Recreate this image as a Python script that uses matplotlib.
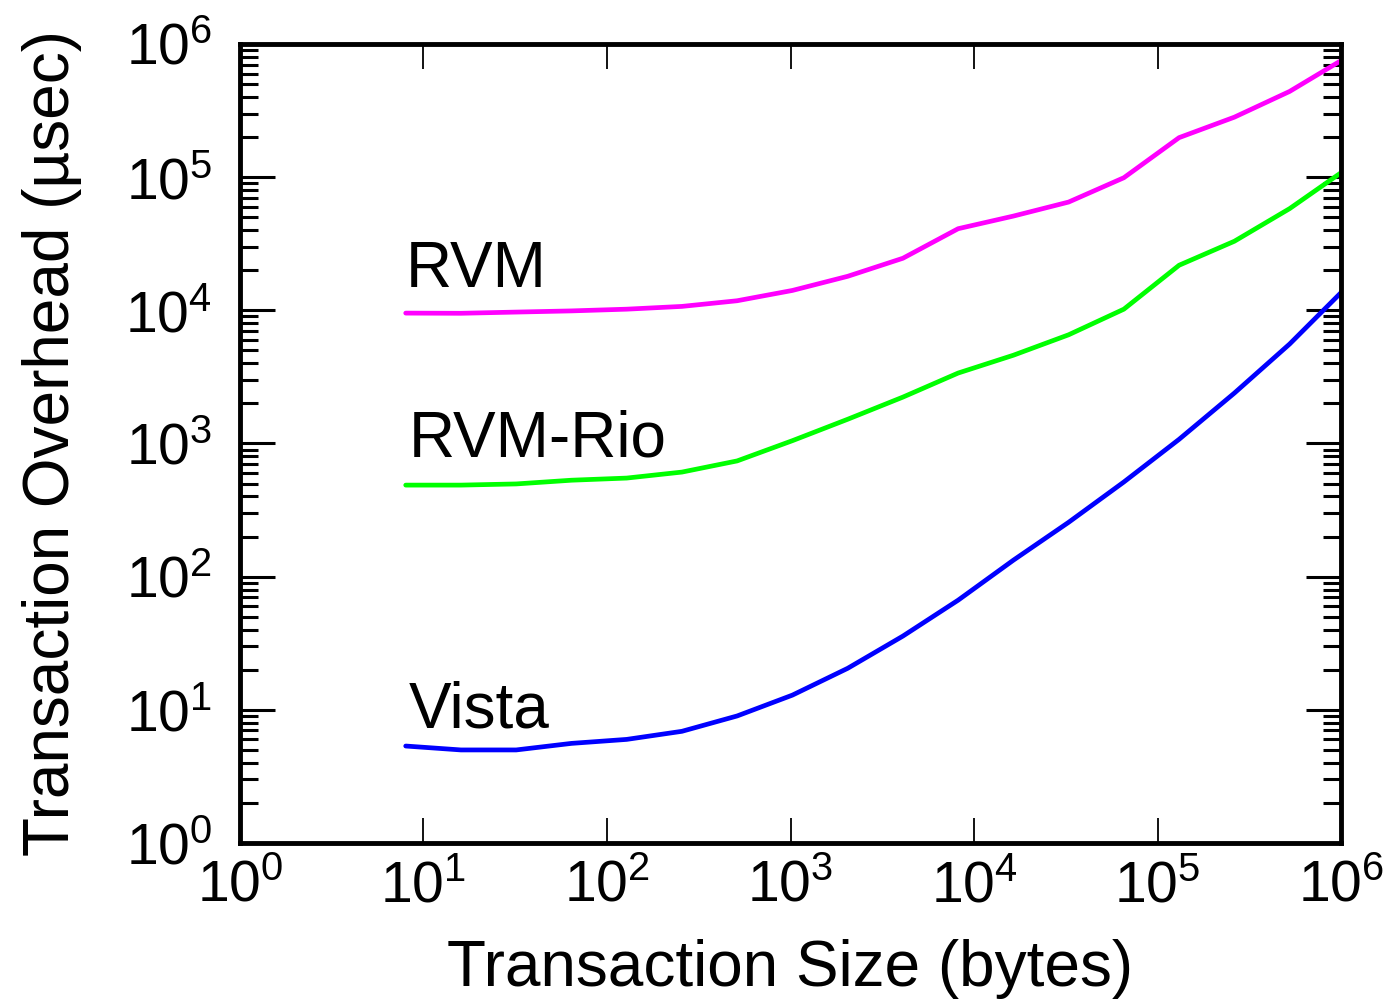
import matplotlib
matplotlib.use("Agg")
import matplotlib.pyplot as plt
import numpy as np

plt.rcParams['font.family'] = ['Liberation Sans', 'DejaVu Sans']
plt.rcParams['mathtext.fontset'] = 'custom'
plt.rcParams['mathtext.rm'] = 'Liberation Sans'
plt.rcParams['mathtext.default'] = 'regular'

# transaction sizes in bytes (powers of two from 8 to 1M)
sizes = [8, 16, 32, 64, 128, 256, 512, 1024, 2048, 4096, 8192, 16384,
         32768, 65536, 131072, 262144, 524288, 1048576]

rvm = [9530, 9500, 9700, 9900, 10200, 10700, 11800, 14100, 18000, 24600,
       41000, 51000, 65000, 99000, 198000, 282000, 440000, 780000]
rvm_rio = [487, 487, 497, 530, 550, 610, 740, 1050, 1520, 2230, 3380, 4600,
           6550, 10200, 21800, 33000, 58000, 113000]
vista = [5.35, 5.0, 5.0, 5.6, 6.0, 6.9, 9.0, 12.9, 20.5, 35.8, 66.6, 133,
         256, 514, 1075, 2390, 5580, 14500]

fig = plt.figure(figsize=(13.92, 10.06), dpi=100)
ax = fig.add_axes([0.1724, 0.162, 0.7910, 0.7943])

ax.plot(sizes, rvm, color='#ff00ff', lw=3.4, solid_capstyle='round')
ax.plot(sizes, rvm_rio, color='#00ff00', lw=3.4, solid_capstyle='round')
ax.plot(sizes, vista, color='#0000ff', lw=3.4, solid_capstyle='round')

ax.set_xscale('log')
ax.set_yscale('log')
ax.set_xlim(1, 1e6)
ax.set_ylim(1, 1e6)

ax.text(8, 14970, 'RVM', fontsize=46, va='baseline', ha='left')
ax.text(8.3, 792, 'RVM-Rio', fontsize=46, va='baseline', ha='left')
ax.text(8.3, 7.31, 'Vista', fontsize=46, va='baseline', ha='left')

ax.set_xlabel('Transaction Size (bytes)', fontsize=46, labelpad=18)
ax.set_ylabel('Transaction Overhead (\u00b5sec)', fontsize=46, labelpad=31)

for s in ax.spines.values():
    s.set_linewidth(3.5)

ax.xaxis.set_major_locator(matplotlib.ticker.LogLocator(base=10, numticks=10))
ax.xaxis.set_minor_locator(matplotlib.ticker.NullLocator())
ax.yaxis.set_major_locator(matplotlib.ticker.LogLocator(base=10, numticks=10))
ax.yaxis.set_minor_locator(matplotlib.ticker.LogLocator(base=10, subs=np.arange(2, 10), numticks=10))

ax.tick_params(axis='x', which='major', direction='in', top=True, length=18, width=1.3,
               labelsize=41, pad=12)
ax.tick_params(axis='y', which='major', direction='in', right=True, length=25, width=2.2,
               labelsize=41, pad=20)
ax.tick_params(axis='y', which='minor', direction='in', right=True, length=13, width=2.2)

fig.savefig('out.png', dpi=100)
